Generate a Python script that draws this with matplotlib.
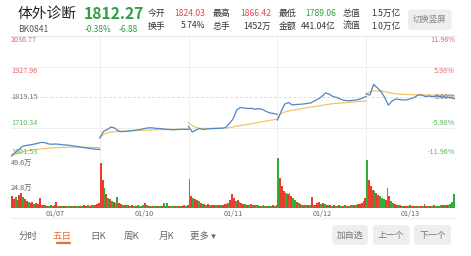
import matplotlib
matplotlib.use('Agg')
import matplotlib.pyplot as plt
from matplotlib.patches import FancyBboxPatch
from matplotlib.transforms import IdentityTransform
from matplotlib.lines import Line2D

plt.rcParams['font.family'] = ['Noto Sans CJK SC', 'DejaVu Sans']

W, H = 471, 256

# Price chart data: one value every 10 minutes over a 240 minute session
minutes = list(range(0, 241, 10))
dates = ['01/07', '01/10', '01/11', '01/12', '01/13']

price_d1 = [1608.7, 1619.4, 1630.1, 1642.6, 1646.1, 1647.9, 1650.4, 1653.3, 1656.8, 1656.8, 1652.2, 1650.4, 1651.5,
            1650.4, 1648.6, 1647.9, 1646.1, 1644.3, 1642.6, 1640.1, 1638.0, 1636.2, 1634.4, 1632.9, 1631.9]
price_d2 = [1672.9, 1696.1, 1703.2, 1712.1, 1708.6, 1697.9, 1695.4, 1696.8, 1697.9, 1699.7, 1701.4, 1703.2, 1706.8,
            1708.6, 1709.3, 1707.5, 1706.8, 1705.7, 1703.9, 1703.2, 1702.1, 1703.2, 1703.9, 1703.9, 1703.9]
price_d3 = [1713.9, 1694.3, 1701.4, 1706.8, 1703.2, 1705.0, 1706.1, 1706.8, 1707.5, 1707.5, 1710.3, 1724.6, 1740.6,
            1772.8, 1781.7, 1779.9, 1778.1, 1778.8, 1775.3, 1778.1, 1774.6, 1767.4, 1762.1, 1760.3, 1757.4]
price_d4 = [1737.1, 1767.4, 1794.2, 1799.5, 1790.6, 1792.4, 1793.1, 1794.2, 1796.0, 1797.8, 1804.9, 1812.0, 1820.9,
            1833.4, 1829.9, 1820.9, 1817.4, 1812.0, 1807.4, 1806.0, 1806.7, 1808.4, 1810.2, 1815.6, 1820.9]
price_d5 = [1830.0, 1826.0, 1864.0, 1852.0, 1838.8, 1817.4, 1790.0, 1804.9, 1812.0, 1810.2, 1808.4, 1809.2, 1812.7,
            1817.4, 1826.3, 1826.3, 1820.9, 1822.7, 1820.2, 1822.7, 1820.9, 1819.2, 1818.1, 1816.3, 1812.3]

avg_d1 = [1608.7, 1614.0, 1619.4, 1623.5, 1626.5, 1628.8, 1630.8, 1632.3, 1633.6, 1635.0, 1636.2, 1637.1, 1638.0,
          1638.5, 1639.0, 1639.4, 1639.7, 1639.9, 1640.1, 1640.0, 1639.7, 1639.4, 1639.0, 1638.7, 1638.3]
avg_d2 = [1674.6, 1685.4, 1691.4, 1694.3, 1695.4, 1696.1, 1696.8, 1697.5, 1698.2, 1698.9, 1699.6, 1700.2, 1700.8,
          1701.3, 1701.8, 1702.2, 1702.5, 1702.8, 1703.0, 1703.2, 1703.4, 1703.6, 1703.7, 1703.8, 1703.9]
avg_d3 = [1727.4, 1717.5, 1710.3, 1707.5, 1706.8, 1707.0, 1707.2, 1707.5, 1707.8, 1708.2, 1708.6, 1709.6, 1712.1,
          1715.7, 1717.5, 1719.3, 1721.8, 1723.9, 1726.4, 1729.0, 1731.0, 1733.5, 1736.0, 1737.8, 1739.6]
avg_d4 = [1744.2, 1760.3, 1765.6, 1769.2, 1772.0, 1774.2, 1776.3, 1778.8, 1781.0, 1783.1, 1785.3, 1787.0, 1789.2,
          1791.3, 1793.5, 1795.3, 1796.7, 1797.8, 1798.8, 1799.9, 1800.9, 1802.0, 1803.1, 1804.2, 1804.9]
avg_d5 = [1831.6, 1837.0, 1840.6, 1841.3, 1840.6, 1838.1, 1835.2, 1832.4, 1830.6, 1829.5, 1828.8, 1828.1, 1827.7,
          1827.4, 1827.0, 1826.6, 1826.3, 1826.3, 1825.9, 1825.6, 1825.6, 1825.2, 1825.2, 1824.9, 1824.5]

prices = [price_d1, price_d2, price_d3, price_d4, price_d5]
averages = [avg_d1, avg_d2, avg_d3, avg_d4, avg_d5]

# Volume (unit: 万), one bar per 5 minutes, r = up, g = down
vol_d1 = [12, 9, 11, 8, 13, 15, 11, 9, 7, 6, 5, 6, 4, 5, 4, 10, 3, 3, 2.5, 2, 2, 3, 2, 2.5,
          6, 2, 1.5, 2, 1.5, 2, 1.5, 1.5, 2, 1.5, 2, 1.5, 2, 1.5, 2, 2.5, 2, 3, 2, 2.5, 3, 3, 4, 5]
vol_d2 = [45, 28, 20, 14, 10, 9, 7, 6, 5, 11, 5, 4, 3, 3, 2.5, 3, 2, 2.5, 2, 2, 2.5, 2, 2, 3,
          5, 2.5, 2, 2, 1.5, 2, 1.5, 2, 2, 2, 5, 2, 5, 2, 2, 1.5, 1.5, 2, 1.5, 2, 2, 2.5, 2, 3]
vol_d3 = [29, 12, 10, 9, 8, 7, 5, 4, 4, 3, 4, 3, 3, 2.5, 3, 3, 2.5, 3, 3, 4, 4, 5, 8, 14,
          10, 7, 8, 6, 5, 4, 4, 3, 3, 4, 3, 2.5, 2.5, 3, 2, 2, 2.5, 2, 2, 2, 2, 2.5, 2, 3]
vol_d4 = [49.6, 30, 22, 17, 15, 14, 15, 12, 10, 8, 6, 5, 4, 3, 3, 2.5, 3, 3, 11, 3, 2.5, 5, 6, 4,
          5, 4, 3, 2.5, 3, 2, 2.5, 2, 2, 2.5, 2, 2, 2.5, 2, 2, 2.5, 2.5, 3, 3, 4, 4, 5, 7, 10]
vol_d5 = [48, 28, 22, 18, 17, 15, 13, 12, 10, 9, 8, 20, 12, 7, 5, 4, 3, 3, 2.5, 2, 2, 2, 2, 2.5,
          2, 1.5, 2, 1.5, 2, 2, 1.5, 4, 2, 2, 1.5, 2, 2.5, 2, 2, 2, 2.5, 3, 2.5, 3, 3, 4, 6, 14]
vol_sides = ['rrgrrrgr' 'rgrrgrrr' 'grgrggrr' 'rgrgrggg' 'rgrggrgr' 'rgrrgrrr',
             'rrgrgrgr' 'ggrrgrgr' 'grgrggrg' 'rgrgrggr' 'grgrgrgg' 'rgrgrrgr',
             'grgrrgrg' 'rgrgrrgg' 'rgrrrgrr' 'rgrgrrgr' 'grgrggrg' 'rgrggrgr',
             'grrrgrgr' 'ggrgrgrg' 'rgrgrrrg' 'rgrgrgrg' 'grgrgrgr' 'grgrrrrr',
             'grrrgrrg' 'ggrgrggr' 'rgrgrrgr' 'grgrgrgr' 'rgrgrgrg' 'grgrgggg']
volumes = [vol_d1, vol_d2, vol_d3, vol_d4, vol_d5]

pre_close = 1819.15
price_ticks = [2036.77, 1927.96, 1819.15, 1710.34, 1601.53]
pct_ticks = ['11.96%', '5.98%', '0.00%', '-5.98%', '-11.96%']
vol_ticks = ['49.6万', '24.8万']

RED = '#e5484d'
GREEN = '#2ea043'
GRID = '#eeeeee'
GREY_TXT = '#666666'


def fx(x):
    return x / W


def fy(y):
    return 1 - y / H


def box(fig, x0, y0, x1, y1, color):
    # Rounded box in image pixel coordinates
    p = FancyBboxPatch((x0, H - y1), x1 - x0, y1 - y0, boxstyle='round,pad=0,rounding_size=4',
                       transform=IdentityTransform(), facecolor=color, edgecolor='none')
    fig.patches.append(p)


def draw_header(fig):
    fig.text(fx(18), fy(14), '体外诊断', fontsize=10.6, color='#222222', va='center')
    fig.text(fx(84), fy(14), '1812.27', fontsize=11.3, color=GREEN, va='center', fontweight='bold')
    fig.text(fx(18), fy(29), 'BK0841', fontsize=6.2, color='#555555', va='center')
    fig.text(fx(85), fy(29), '-0.38%', fontsize=6, color=GREEN, va='center')
    fig.text(fx(119), fy(29), '-6.88', fontsize=6, color=GREEN, va='center')

    row1 = [('今开', '1824.03', RED, 205.5), ('最高', '1866.42', RED, 271),
            ('最低', '1789.06', GREEN, 336), ('总值', '1.5万亿', '#333333', 400)]
    row2 = [('换手', '5.74%', '#333333', 205.5), ('总手', '1452万', '#333333', 271),
            ('金额', '441.04亿', '#333333', 336), ('流值', '1.0万亿', '#333333', 400)]
    label_x = [148, 213, 278.5, 343]
    for row, y in ((row1, 13.3), (row2, 26)):
        for (lab, val, col, xr), xl in zip(row, label_x):
            fig.text(fx(xl), fy(y), lab, fontsize=6.4, color='#333333', va='center')
            fig.text(fx(xr), fy(y), val, fontsize=6.2, color=col, va='center', ha='right')

    box(fig, 408, 9.5, 451.5, 30, '#eeeeee')
    fig.text(fx(429.7), fy(19.8), '切换竖屏', fontsize=6, color='#888888', va='center', ha='center')

    fig.add_artist(Line2D([fx(11), fx(456)], [fy(35.7), fy(35.7)], color='#e6e6e6', lw=0.8))


def draw_price(fig):
    ax = fig.add_axes([fx(11), fy(158), fx(444), 122 / H])
    for d in range(5):
        xs = [d * 240 + m for m in minutes]
        ax.plot(xs, averages[d], color='#f3c467', lw=0.9)
        ax.plot(xs, prices[d], color='#4f86c3', lw=0.9)
    ax.set_xlim(0, 1200)
    ax.set_ylim(price_ticks[-1], price_ticks[0])
    for v in (price_ticks[1], price_ticks[3]):
        ax.axhline(v, color=GRID, lw=0.7, zorder=0)
    ax.axhline(pre_close, color='#dddddd', lw=0.7, ls=(0, (3, 2)), zorder=0)
    for d in range(1, 5):
        ax.axvline(d * 240, color=GRID, lw=0.7, zorder=0)
    ax.set_xticks([])
    ax.set_yticks([])
    for s in ('top', 'left', 'right'):
        ax.spines[s].set_visible(False)
    ax.spines['bottom'].set_color('#e6e6e6')
    ax.spines['bottom'].set_linewidth(0.8)

    # Left price labels and right percentage labels
    ys = [40, 70.7, 97, 122.7, 152.5]
    cols = ['#e06a6a', '#e06a6a', '#777777', '#5cb85c', '#5cb85c']
    for v, p, y, c in zip(price_ticks, pct_ticks, ys, cols):
        fig.text(fx(11), fy(y), '%.2f' % v, fontsize=5.2, color=c, va='center')
        fig.text(fx(455), fy(y), p, fontsize=5.2, color=c, va='center', ha='right')


def draw_volume(fig):
    ax = fig.add_axes([fx(11), fy(208), fx(444), 50 / H])
    for d in range(5):
        xs = [d * 240 + 2.5 + 5 * k for k in range(len(volumes[d]))]
        cols = ['#ee3b2f' if s == 'r' else '#2fae3c' for s in vol_sides[d]]
        ax.bar(xs, volumes[d], width=5, color=cols, linewidth=0)
    ax.set_xlim(0, 1200)
    ax.set_ylim(0, 49.6)
    for d in range(1, 5):
        ax.axvline(d * 240, color=GRID, lw=0.7, zorder=0)
    ax.set_xticks([])
    ax.set_yticks([])
    for s in ax.spines.values():
        s.set_visible(False)

    fig.text(fx(11), fy(162.5), vol_ticks[0], fontsize=5.2, color=GREY_TXT, va='center')
    fig.text(fx(11), fy(187.5), vol_ticks[1], fontsize=5.2, color=GREY_TXT, va='center')

    for d, lab in enumerate(dates):
        fig.text(fx(11 + 88.8 * (d + 0.5)), fy(214), lab, fontsize=5.2, color=GREY_TXT, va='center', ha='center')
    fig.add_artist(Line2D([fx(11), fx(456)], [fy(218.3), fy(218.3)], color='#eeeeee', lw=0.8))


def draw_footer(fig):
    tabs = [('分时', 18.3), ('五日', 52.7), ('日K', 90), ('周K', 123.3), ('月K', 158.3), ('更多 ▾', 190)]
    for lab, x in tabs:
        col = '#e8722c' if lab == '五日' else '#666666'
        fig.text(fx(x), fy(236.3), lab, fontsize=6.8, color=col, va='center')
    fig.add_artist(Line2D([fx(56.5), fx(69.5)], [fy(242.8), fy(242.8)], color='#e8722c', lw=1.6,
                          solid_capstyle='round'))

    for lab, x0, x1 in (('加自选', 332, 368), ('上一个', 373, 409.5), ('下一个', 414, 451)):
        box(fig, x0, 225, x1, 245, '#eeeeee')
        fig.text(fx((x0 + x1) / 2), fy(235.3), lab, fontsize=6.4, color='#777777', va='center', ha='center')


def main():
    fig = plt.figure(figsize=(W / 100, H / 100), dpi=100)
    fig.patch.set_facecolor('white')
    draw_header(fig)
    draw_price(fig)
    draw_volume(fig)
    draw_footer(fig)
    fig.savefig('out.png', dpi=100)


if __name__ == '__main__':
    main()
